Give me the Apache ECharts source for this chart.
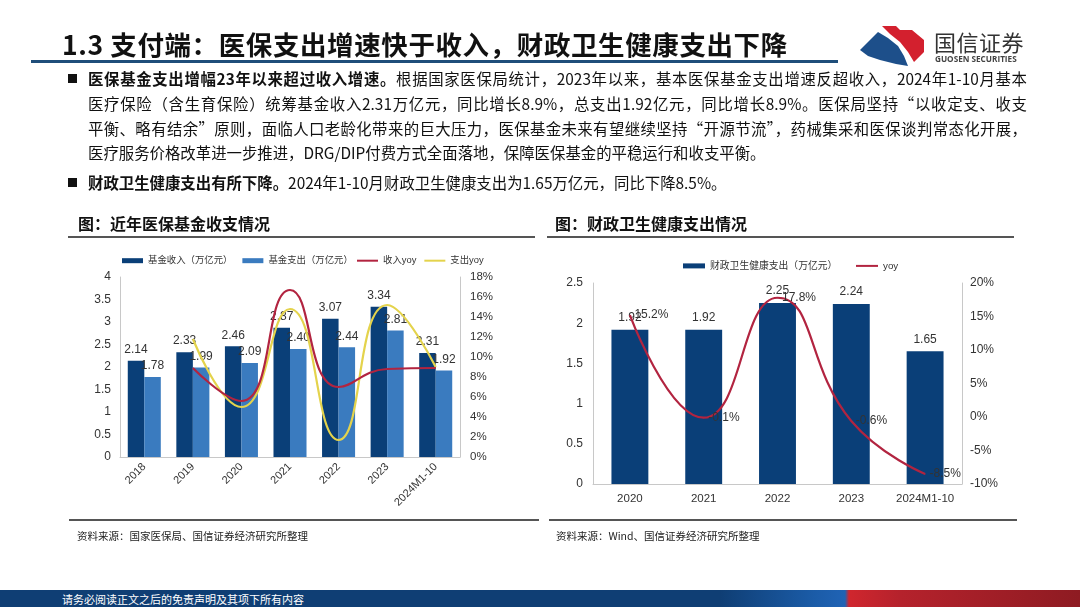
<!DOCTYPE html>
<html><head><meta charset="utf-8">
<script src="https://cdn.jsdelivr.net/npm/echarts@6/dist/echarts.min.js"></script>
<style>
html,body{margin:0;padding:0;background:#fff;}
body{width:1080px;height:607px;position:relative;overflow:hidden;font-family:"Liberation Sans",Arial,"Noto Sans CJK SC",sans-serif;color:#111;}
#chart{position:absolute;left:0;top:0;width:1080px;height:607px;}
.abs{position:absolute;white-space:nowrap;}
#title{left:62px;top:24px;font-size:26.5px;font-weight:bold;font-family:"Noto Sans CJK SC",sans-serif;letter-spacing:0.6px;color:#111;}
#titleLine{left:31px;top:60px;width:807px;height:3px;background:#1f4e7a;}
.para{position:absolute;left:88px;width:939px;font-size:15.4px;line-height:25px;font-family:"Noto Sans CJK SC",sans-serif;color:#111;white-space:nowrap;}
.just{text-align:justify;text-align-last:justify;}
.bul{position:absolute;left:68px;width:9px;height:9px;background:#111;}
.figt{font-size:16px;font-weight:bold;font-family:"Noto Sans CJK SC",sans-serif;color:#111;}
.hline{position:absolute;height:2px;background:#555;}
.src{font-size:10.5px;font-family:"Noto Sans CJK SC",sans-serif;color:#222;}
#footer{left:0;top:590px;width:1080px;height:17px;background:linear-gradient(90deg,#0f3e74 0,#0f3e74 720px,#1b5ca8 815px,#2063b5 845px,#d0262e 849px,#b5222c 900px,#8e1b22 1080px);}
#footText{left:62px;top:591px;font-size:11px;color:#fff;font-family:"Noto Sans CJK SC",sans-serif;}
</style></head>
<body>
<div id="chart"></div>
<div class="abs" id="title">1.3 支付端：医保支出增速快于收入，财政卫生健康支出下降</div>
<div class="abs" id="titleLine"></div>
<svg class="abs" style="left:856px;top:22px" width="75" height="46" viewBox="0 0 75 46">
  <polygon points="26,4 40,4 44,8 56,8 68,18 68,30 58,40 52,30 44,20 34,12" fill="#d3202e"/>
  <polygon points="4,28 22,10 32,16 42,24 48,34 52,44 40,42 24,38 12,34" fill="#1d4f8a"/>
</svg>
<div class="abs" style="left:934px;top:25px;font-size:22px;font-family:'Noto Sans CJK SC',sans-serif;color:#333;letter-spacing:0.5px;">国信证券</div>
<div class="abs" style="left:935px;top:53px;font-size:8.2px;font-weight:bold;color:#444;font-family:'Open Sans',sans-serif;">GUOSEN SECURITIES</div>

<div class="bul" style="top:74px"></div>
<div class="para just" style="top:66px"><b>医保基金支出增幅23年以来超过收入增速。</b>根据国家医保局统计，2023年以来，基本医保基金支出增速反超收入，2024年1-10月基本</div>
<div class="para just" style="top:91px">医疗保险（含生育保险）统筹基金收入2.31万亿元，同比增长8.9%，总支出1.92亿元，同比增长8.9%。医保局坚持“以收定支、收支</div>
<div class="para just" style="top:116px">平衡、略有结余”原则，面临人口老龄化带来的巨大压力，医保基金未来有望继续坚持“开源节流”，药械集采和医保谈判常态化开展，</div>
<div class="para" style="top:140px">医疗服务价格改革进一步推进，DRG/DIP付费方式全面落地，保障医保基金的平稳运行和收支平衡。</div>
<div class="bul" style="top:178px"></div>
<div class="para" style="top:170px"><b>财政卫生健康支出有所下降。</b>2024年1-10月财政卫生健康支出为1.65万亿元，同比下降8.5%。</div>

<div class="abs figt" style="left:78px;top:211px">图：近年医保基金收支情况</div>
<div class="hline" style="left:68px;top:236px;width:467px"></div>
<div class="abs figt" style="left:555px;top:211px">图：财政卫生健康支出情况</div>
<div class="hline" style="left:547px;top:236px;width:467px"></div>

<div class="hline" style="left:69px;top:519px;width:470px"></div>
<div class="hline" style="left:549px;top:519px;width:468px"></div>
<div class="abs src" style="left:77px;top:528px">资料来源：国家医保局、国信证券经济研究所整理</div>
<div class="abs src" style="left:556px;top:528px">资料来源：Wind、国信证券经济研究所整理</div>

<div class="abs" id="footer"></div>
<div class="abs" id="footText">请务必阅读正文之后的免责声明及其项下所有内容</div>

<script>
// Left chart data
const years1 = ['2018','2019','2020','2021','2022','2023','2024M1-10'];
const fundIncome = [2.14, 2.33, 2.46, 2.87, 3.07, 3.34, 2.31];
const fundExpense = [1.78, 1.99, 2.09, 2.40, 2.44, 2.81, 1.92];
const incomeYoy = [null, 8.9, 5.6, 16.7, 7.0, 8.8, 8.9];
const expenseYoy = [null, 11.8, 5.0, 14.8, 1.7, 15.2, 9.0];
const leftTicks = {min: 0, max: 4, interval: 0.5};
const rightTicks = {min: 0, max: 18, interval: 2};
// Right chart data
const years2 = ['2020','2021','2022','2023','2024M1-10'];
const healthSpend = [1.92, 1.92, 2.25, 2.24, 1.65];
const healthYoy = [15.2, -0.1, 17.8, -0.6, -8.5];
const leftTicks2 = {min: 0, max: 2.5, interval: 0.5};
const rightTicks2 = {min: -10, max: 20, interval: 5};

const FONT = '"Liberation Sans", Arial, "Noto Sans CJK SC", sans-serif';
const axisLineGrey = {show: true, lineStyle: {color: '#c8c8c8', width: 1}};
const lbl = {color: '#333', fontSize: 12, fontFamily: FONT};
const legText = {fontSize: 9.4, color: '#333', fontFamily: FONT};

const chart = echarts.init(document.getElementById('chart'), null, {renderer: 'canvas'});
chart.setOption({
  animation: false,
  textStyle: {fontFamily: FONT},
  legend: [
    {left: 117, top: 251, itemGap: 10, itemWidth: 21, itemHeight: 5, icon: 'rect', textStyle: legText,
     data: ['基金收入（万亿元）', '基金支出（万亿元）']},
    {left: 352, top: 251, itemGap: 8, itemWidth: 21, itemHeight: 2, icon: 'rect', textStyle: legText,
     data: ['收入yoy', '支出yoy']},
    {left: 678, top: 256, itemWidth: 22, itemHeight: 5, icon: 'rect', textStyle: Object.assign({}, legText, {fontSize: 9.8}),
     data: ['财政卫生健康支出（万亿元）']},
    {left: 851, top: 256, itemWidth: 22, itemHeight: 2, icon: 'rect', textStyle: Object.assign({}, legText, {fontSize: 9.8}),
     data: ['yoy']}
  ],
  grid: [
    {left: 120, width: 340, top: 277, height: 180},
    {left: 593, width: 369, top: 283, height: 201}
  ],
  xAxis: [
    {type: 'category', gridIndex: 0, data: years1, axisLine: axisLineGrey, axisTick: {show: false},
     axisLabel: {rotate: 45, fontSize: 11, color: '#333', margin: 8, interval: 0}},
    {type: 'category', gridIndex: 1, data: years2, axisLine: axisLineGrey, axisTick: {show: false},
     axisLabel: {fontSize: 11.5, color: '#333', margin: 9, interval: 0}}
  ],
  yAxis: [
    {type: 'value', gridIndex: 0, min: leftTicks.min, max: leftTicks.max, interval: leftTicks.interval,
     axisLine: axisLineGrey, splitLine: {show: false}, axisTick: {show: false},
     axisLabel: {fontSize: 12, color: '#333', margin: 9}},
    {type: 'value', gridIndex: 0, position: 'right', min: rightTicks.min, max: rightTicks.max, interval: rightTicks.interval,
     axisLine: axisLineGrey, splitLine: {show: false}, axisTick: {show: false},
     axisLabel: {fontSize: 11.5, color: '#333', margin: 10, formatter: '{value}%'}},
    {type: 'value', gridIndex: 1, min: leftTicks2.min, max: leftTicks2.max, interval: leftTicks2.interval,
     axisLine: axisLineGrey, splitLine: {show: false}, axisTick: {show: false},
     axisLabel: {fontSize: 12, color: '#333', margin: 10}},
    {type: 'value', gridIndex: 1, position: 'right', min: rightTicks2.min, max: rightTicks2.max, interval: rightTicks2.interval,
     axisLine: axisLineGrey, splitLine: {show: false}, axisTick: {show: false},
     axisLabel: {fontSize: 12, color: '#333', margin: 8, formatter: '{value}%'}}
  ],
  series: [
    {name: '基金收入（万亿元）', type: 'bar', xAxisIndex: 0, yAxisIndex: 0, data: fundIncome,
     barWidth: '34%', barGap: '0%', itemStyle: {color: '#0a3f78'},
     label: Object.assign({show: true, position: 'top', distance: 5, formatter: p => p.value.toFixed(2)}, lbl)},
    {name: '基金支出（万亿元）', type: 'bar', xAxisIndex: 0, yAxisIndex: 0, data: fundExpense,
     barWidth: '34%', barGap: '0%', itemStyle: {color: '#3a7bbf'},
     label: Object.assign({show: true, position: 'top', distance: 5, formatter: p => p.value.toFixed(2)}, lbl)},
    {name: '收入yoy', type: 'line', xAxisIndex: 0, yAxisIndex: 1, data: incomeYoy, smooth: 0.5,
     showSymbol: false, symbol: 'none', lineStyle: {color: '#b22440', width: 2.2}, itemStyle: {color: '#b22440'}, z: 5},
    {name: '支出yoy', type: 'line', xAxisIndex: 0, yAxisIndex: 1, data: expenseYoy, smooth: 0.5,
     showSymbol: false, symbol: 'none', lineStyle: {color: '#e4d34c', width: 2.2}, itemStyle: {color: '#e4d34c'}, z: 4},
    {name: '财政卫生健康支出（万亿元）', type: 'bar', xAxisIndex: 1, yAxisIndex: 2, data: healthSpend,
     barWidth: '50%', itemStyle: {color: '#0a3f78'},
     label: Object.assign({show: true, position: 'top', distance: 6, formatter: p => p.value.toFixed(2)}, lbl)},
    {name: 'yoy', type: 'line', xAxisIndex: 1, yAxisIndex: 3, data: healthYoy, smooth: 0.5,
     symbol: 'circle', symbolSize: 1, showSymbol: true,
     lineStyle: {color: '#b22440', width: 2.2}, itemStyle: {color: '#b22440'},
     label: Object.assign({show: true, position: 'right', distance: 4, formatter: p => p.value.toFixed(1) + '%'}, lbl), z: 5}
  ]
});
</script>
</body></html>
